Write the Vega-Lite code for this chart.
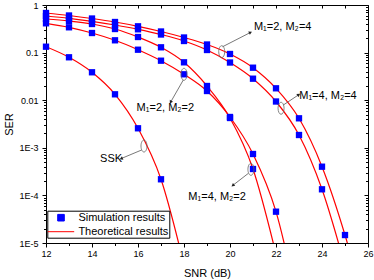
{
  "$schema": "https://vega.github.io/schema/vega-lite/v6.json",
  "width": 322,
  "height": 238,
  "autosize": {"type": "none"},
  "padding": {"left": 46, "top": 5, "right": 6, "bottom": 37},
  "config": {
    "font": "Liberation Sans",
    "view": {"stroke": "black", "strokeWidth": 1},
    "axis": {"grid": false, "domain": false, "tickColor": "black", "labelColor": "black", "titleColor": "black", "tickWidth": 1}
  },
  "datasets": {
    "curves": [
      {"curve": "M1=2, M2=4", "snr": 12, "ser": 0.679},
      {"curve": "M1=2, M2=4", "snr": 13, "ser": 0.602},
      {"curve": "M1=2, M2=4", "snr": 14, "ser": 0.52},
      {"curve": "M1=2, M2=4", "snr": 15, "ser": 0.4394},
      {"curve": "M1=2, M2=4", "snr": 16, "ser": 0.3568},
      {"curve": "M1=2, M2=4", "snr": 17, "ser": 0.2776},
      {"curve": "M1=2, M2=4", "snr": 18, "ser": 0.2076},
      {"curve": "M1=2, M2=4", "snr": 19, "ser": 0.148},
      {"curve": "M1=2, M2=4", "snr": 20, "ser": 0.0935},
      {"curve": "M1=2, M2=4", "snr": 21, "ser": 0.0482},
      {"curve": "M1=2, M2=4", "snr": 22, "ser": 0.01778},
      {"curve": "M1=2, M2=4", "snr": 23, "ser": 0.004165},
      {"curve": "M1=2, M2=4", "snr": 24, "ser": 0.000401},
      {"curve": "M1=2, M2=4", "snr": 25, "ser": 0.0000147},
      {"curve": "M1=2, M2=4", "snr": 26, "ser": 0.000000241},
      {"curve": "M1=4, M2=4", "snr": 12, "ser": 0.587},
      {"curve": "M1=4, M2=4", "snr": 13, "ser": 0.5254},
      {"curve": "M1=4, M2=4", "snr": 14, "ser": 0.4545},
      {"curve": "M1=4, M2=4", "snr": 15, "ser": 0.38},
      {"curve": "M1=4, M2=4", "snr": 16, "ser": 0.3087},
      {"curve": "M1=4, M2=4", "snr": 17, "ser": 0.24},
      {"curve": "M1=4, M2=4", "snr": 18, "ser": 0.1753},
      {"curve": "M1=4, M2=4", "snr": 19, "ser": 0.1134},
      {"curve": "M1=4, M2=4", "snr": 20, "ser": 0.0619},
      {"curve": "M1=4, M2=4", "snr": 21, "ser": 0.0283},
      {"curve": "M1=4, M2=4", "snr": 22, "ser": 0.00939},
      {"curve": "M1=4, M2=4", "snr": 23, "ser": 0.001857},
      {"curve": "M1=4, M2=4", "snr": 24, "ser": 0.0001343},
      {"curve": "M1=4, M2=4", "snr": 25, "ser": 0.00000329},
      {"curve": "M1=4, M2=2", "snr": 12, "ser": 0.508},
      {"curve": "M1=4, M2=2", "snr": 13, "ser": 0.461},
      {"curve": "M1=4, M2=2", "snr": 14, "ser": 0.399},
      {"curve": "M1=4, M2=2", "snr": 15, "ser": 0.313},
      {"curve": "M1=4, M2=2", "snr": 16, "ser": 0.2127},
      {"curve": "M1=4, M2=2", "snr": 17, "ser": 0.1292},
      {"curve": "M1=4, M2=2", "snr": 18, "ser": 0.0625},
      {"curve": "M1=4, M2=2", "snr": 19, "ser": 0.01988},
      {"curve": "M1=4, M2=2", "snr": 20, "ser": 0.004227},
      {"curve": "M1=4, M2=2", "snr": 21, "ser": 0.0003585},
      {"curve": "M1=4, M2=2", "snr": 22, "ser": 0.00000587},
      {"curve": "M1=2, M2=2", "snr": 12, "ser": 0.4125},
      {"curve": "M1=2, M2=2", "snr": 13, "ser": 0.34},
      {"curve": "M1=2, M2=2", "snr": 14, "ser": 0.258},
      {"curve": "M1=2, M2=2", "snr": 15, "ser": 0.1813},
      {"curve": "M1=2, M2=2", "snr": 16, "ser": 0.115},
      {"curve": "M1=2, M2=2", "snr": 17, "ser": 0.0676},
      {"curve": "M1=2, M2=2", "snr": 18, "ser": 0.035},
      {"curve": "M1=2, M2=2", "snr": 19, "ser": 0.0156},
      {"curve": "M1=2, M2=2", "snr": 20, "ser": 0.00444},
      {"curve": "M1=2, M2=2", "snr": 21, "ser": 0.000741},
      {"curve": "M1=2, M2=2", "snr": 22, "ser": 0.0000455},
      {"curve": "M1=2, M2=2", "snr": 23, "ser": 0.000000391},
      {"curve": "SSK", "snr": 12, "ser": 0.133},
      {"curve": "SSK", "snr": 13, "ser": 0.0797},
      {"curve": "SSK", "snr": 14, "ser": 0.0386},
      {"curve": "SSK", "snr": 15, "ser": 0.0133},
      {"curve": "SSK", "snr": 16, "ser": 0.00257},
      {"curve": "SSK", "snr": 17, "ser": 0.000218},
      {"curve": "SSK", "snr": 18, "ser": 0.0000035}
    ],
    "texts": [
      {"label": "M₁=2, M₂=4", "x": 21.04, "y": 0.345},
      {"label": "M₁=4, M₂=4", "x": 23.01, "y": 0.01225},
      {"label": "M₁=2, M₂=2", "x": 15.94, "y": 0.00686},
      {"label": "M₁=4, M₂=2", "x": 18.19, "y": 0.0000925},
      {"label": "SSK", "x": 14.35, "y": 0.00059}
    ],
    "ellipses": [
      {"label": "M1=2, M2=4", "x": 19.64, "y": 0.1045},
      {"label": "M1=4, M2=4", "x": 22.22, "y": 0.00676},
      {"label": "M1=2, M2=2", "x": 18.0, "y": 0.035},
      {"label": "M1=4, M2=2", "x": 20.91, "y": 0.000353},
      {"label": "SSK", "x": 16.26, "y": 0.00109}
    ],
    "arrows": [
      {"label": "M1=2, M2=4", "x1": 19.68, "y1": 0.133, "x2": 20.87, "y2": 0.262},
      {"label": "M1=4, M2=4", "x1": 22.32, "y1": 0.00793, "x2": 22.97, "y2": 0.01286},
      {"label": "M1=2, M2=2", "x1": 17.97, "y1": 0.0266, "x2": 17.43, "y2": 0.0093},
      {"label": "M1=4, M2=2", "x1": 20.8, "y1": 0.000291, "x2": 20.14, "y2": 0.000165},
      {"label": "SSK", "x1": 16.16, "y1": 0.0009, "x2": 15.29, "y2": 0.0006}
    ]
  },
  "resolve": {"axis": {"x": "independent", "y": "independent"}},
  "layer": [
    {
      "data": {"name": "curves"},
      "mark": {"type": "line", "interpolate": "monotone", "clip": true, "strokeWidth": 1.2},
      "encoding": {
        "x": {"field": "snr", "type": "quantitative", "scale": {"domain": [12, 26], "nice": false, "zero": false},
          "axis": {"orient": "bottom", "values": [12, 14, 16, 18, 20, 22, 24, 26], "tickSize": 4, "labelFontSize": 9, "labelPadding": 2, "labelFlush": false, "labelOverlap": false,
            "title": "SNR (dB)", "titleFontSize": 11, "titleFontWeight": "normal", "titleX": 161, "titleY": 30, "titleBaseline": "middle", "titleAlign": "center"}},
        "y": {"field": "ser", "type": "quantitative", "scale": {"type": "log", "domain": [0.00001, 1], "nice": false},
          "axis": {"orient": "left", "values": [1, 0.1, 0.01, 0.001, 0.0001, 0.00001], "tickSize": 4, "labelPadding": 4, "labelFontSize": 9, "labelOverlap": false, "labelFlush": false,
            "labelExpr": "datum.value > 0.5 ? '1' : datum.value > 0.05 ? '0.1' : datum.value > 0.005 ? '0.01' : datum.value > 0.0005 ? '1E-3' : datum.value > 0.00005 ? '1E-4' : '1E-5'",
            "title": "SER", "titleFontSize": 11, "titleFontWeight": "normal", "titleAngle": 270, "titleX": -37, "titleY": 119, "titleBaseline": "middle", "titleAlign": "center"}},
        "color": {"datum": "Theoretical results", "type": "nominal",
          "scale": {"domain": ["Simulation results", "Theoretical results"], "range": ["#0000ff", "#ff0000"]},
          "legend": {"title": null, "orient": "none", "legendX": 1.3, "legendY": 205.7, "padding": 1, "rowPadding": 2, "symbolSize": 121, "symbolStrokeWidth": 1,
            "symbolOffset": 6.7, "labelOffset": 11.4, "labelFontSize": 11, "labelColor": "black", "strokeColor": "black", "fillColor": "white",
            "encode": {"symbols": {"update": {
              "shape": {"signal": "datum.value === 'Simulation results' ? 'M-0.6,-0.6H0.6V0.6H-0.6Z' : 'M-2.4,0H2.4'"},
              "fill": {"signal": "datum.value === 'Simulation results' ? '#0000ff' : 'transparent'"},
              "stroke": {"signal": "datum.value === 'Simulation results' ? 'transparent' : '#ff0000'"},
              "strokeWidth": {"value": 1},
              "size": {"value": 121},
              "opacity": {"value": 1}}}}}},
        "detail": {"field": "curve"}
      }
    },
    {
      "data": {"name": "curves"},
      "transform": [{"filter": "datum.ser >= 0.00001"}],
      "mark": {"type": "point", "shape": "square", "filled": true, "size": 40, "opacity": 1},
      "encoding": {
        "x": {"field": "snr", "type": "quantitative", "scale": {"domain": [12, 26], "nice": false, "zero": false},
          "axis": {"orient": "bottom", "values": [13, 15, 17, 19, 21, 23, 25], "tickSize": 2.5, "labels": false, "title": null}},
        "y": {"field": "ser", "type": "quantitative", "scale": {"type": "log", "domain": [0.00001, 1], "nice": false},
          "axis": {"orient": "left", "values": [0.00002, 0.00003, 0.00004, 0.00005, 0.00006, 0.00007, 0.00008, 0.00009, 0.0002, 0.0003, 0.0004, 0.0005, 0.0006, 0.0007, 0.0008, 0.0009, 0.002, 0.003, 0.004, 0.005, 0.006, 0.007, 0.008, 0.009, 0.02, 0.03, 0.04, 0.05, 0.06, 0.07, 0.08, 0.09, 0.2, 0.3, 0.4, 0.5, 0.6, 0.7, 0.8, 0.9], "tickSize": 2.5, "labels": false, "title": null}},
        "color": {"datum": "Simulation results", "type": "nominal",
          "scale": {"domain": ["Simulation results", "Theoretical results"], "range": ["#0000ff", "#ff0000"]},
          "legend": {"title": null, "orient": "none", "legendX": 1.3, "legendY": 205.7, "padding": 1, "rowPadding": 2, "symbolSize": 121, "symbolStrokeWidth": 1,
            "symbolOffset": 6.7, "labelOffset": 11.4, "labelFontSize": 11, "labelColor": "black", "strokeColor": "black", "fillColor": "white",
            "encode": {"symbols": {"update": {
              "shape": {"signal": "datum.value === 'Simulation results' ? 'M-0.6,-0.6H0.6V0.6H-0.6Z' : 'M-2.4,0H2.4'"},
              "fill": {"signal": "datum.value === 'Simulation results' ? '#0000ff' : 'transparent'"},
              "stroke": {"signal": "datum.value === 'Simulation results' ? 'transparent' : '#ff0000'"},
              "strokeWidth": {"value": 1},
              "size": {"value": 121},
              "opacity": {"value": 1}}}}}}
      }
    },
    {
      "data": {"name": "ellipses"},
      "mark": {"type": "point", "shape": "M0,-1A0.5,1 0 1,1 0,1A0.5,1 0 1,1 0,-1Z", "size": 144, "filled": false, "stroke": "#666666", "strokeWidth": 0.8, "opacity": 1},
      "encoding": {
        "x": {"field": "x", "type": "quantitative", "scale": {"domain": [12, 26], "nice": false, "zero": false},
          "axis": {"orient": "top", "values": [12, 13, 14, 15, 16, 17, 18, 19, 20, 21, 22, 23, 24, 25, 26], "tickSize": -3, "labels": false, "title": null}},
        "y": {"field": "y", "type": "quantitative", "scale": {"type": "log", "domain": [0.00001, 1], "nice": false},
          "axis": {"orient": "right", "values": [0.00002, 0.00003, 0.00004, 0.00005, 0.00006, 0.00007, 0.00008, 0.00009, 0.0002, 0.0003, 0.0004, 0.0005, 0.0006, 0.0007, 0.0008, 0.0009, 0.002, 0.003, 0.004, 0.005, 0.006, 0.007, 0.008, 0.009, 0.02, 0.03, 0.04, 0.05, 0.06, 0.07, 0.08, 0.09, 0.2, 0.3, 0.4, 0.5, 0.6, 0.7, 0.8, 0.9], "tickSize": -2.5, "labels": false, "title": null}}
      }
    },
    {
      "data": {"name": "arrows"},
      "mark": {"type": "rule", "stroke": "#555555", "strokeWidth": 0.8},
      "encoding": {
        "x": {"field": "x1", "type": "quantitative", "scale": {"domain": [12, 26], "nice": false, "zero": false}, "axis": null},
        "y": {"field": "y1", "type": "quantitative", "scale": {"type": "log", "domain": [0.00001, 1], "nice": false},
          "axis": {"orient": "right", "values": [1, 0.1, 0.01, 0.001, 0.0001, 0.00001], "tickSize": -4, "labels": false, "title": null}},
        "x2": {"field": "x2"},
        "y2": {"field": "y2"}
      }
    },
    {
      "data": {"name": "arrows"},
      "mark": {"type": "point", "shape": "triangle", "filled": true, "size": 14, "color": "#222222", "opacity": 1},
      "encoding": {
        "x": {"field": "x2", "type": "quantitative", "scale": {"domain": [12, 26], "nice": false, "zero": false}, "axis": null},
        "y": {"field": "y2", "type": "quantitative", "scale": {"type": "log", "domain": [0.00001, 1], "nice": false}, "axis": null},
        "angle": {"field": "label", "type": "nominal", "legend": null,
          "scale": {"type": "ordinal", "domain": ["M1=2, M2=4", "M1=4, M2=4", "M1=2, M2=2", "M1=4, M2=2", "SSK"], "range": [63, 56, 209.5, 232, 247.5]}}
      }
    },
    {
      "data": {"name": "texts"},
      "mark": {"type": "text", "align": "left", "baseline": "middle", "fontSize": 11, "color": "black"},
      "encoding": {
        "x": {"field": "x", "type": "quantitative", "scale": {"domain": [12, 26], "nice": false, "zero": false}, "axis": null},
        "y": {"field": "y", "type": "quantitative", "scale": {"type": "log", "domain": [0.00001, 1], "nice": false}, "axis": null},
        "text": {"field": "label"}
      }
    }
  ]
}
